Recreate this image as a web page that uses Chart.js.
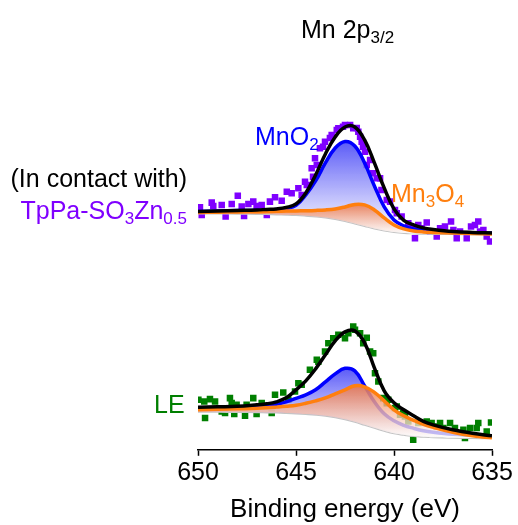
<!DOCTYPE html>
<html>
<head>
<meta charset="utf-8">
<script src="https://cdn.jsdelivr.net/npm/chart.js@4.4.1/dist/chart.umd.min.js"></script>
<style>
  body { margin: 0; background: #fff; }
  #wrap { position: relative; width: 518px; height: 525px; font-family: "Liberation Sans", Arial, sans-serif; }
  .lbl { position: absolute; font-size: 25px; line-height: 25px; white-space: nowrap; }
  .lbl sub { font-size: 17px; vertical-align: -5px; line-height: 0; }
</style>
</head>
<body>
<div id="wrap">
  <canvas id="chart-xps" width="518" height="525"></canvas>
  <div class="lbl" style="left:301px; top:17px; color:#000;">Mn 2p<sub>3/2</sub></div>
  <div class="lbl" style="left:255px; top:124px; color:#0000ff;">MnO<sub>2</sub></div>
  <div class="lbl" style="left:391px; top:181px; color:#ff7f0e;">Mn<sub>3</sub>O<sub>4</sub></div>
  <div class="lbl" style="right:331px; top:166px; color:#000; text-align:right;">(In contact with)</div>
  <div class="lbl" style="right:331px; top:198px; color:#7f00ff; text-align:right;">TpPa-SO<sub>3</sub>Zn<sub>0.5</sub></div>
  <div class="lbl" style="left:154px; top:392px; color:#007f00;">LE</div>
</div>
<script>
// binding energy grid for the fitted curves (eV)
const energyGrid = [650, 649, 648, 647, 646.5, 646, 645.5, 645, 644.5, 644, 643.5, 643, 642.5, 642, 641.5, 641, 640.5, 640, 639.5, 639, 638.5, 638, 637, 636, 635];

// upper spectrum: in contact with TpPa-SO3Zn0.5 (offset intensity, a.u.)
const topEnvelope   = [238.5, 239, 239.5, 240, 240.5, 241, 242.5, 246, 257, 275, 296, 313, 323, 323, 310, 287, 262, 241, 229.5, 225, 222, 220.5, 218.5, 217.5, 217];
const topMnO2       = [238.5, 239, 239.3, 239.7, 240, 240.5, 241.5, 244.5, 255, 269, 287, 302, 308.5, 304, 287, 264, 243, 230, 224, 221, 219.5, 218.5, 217.5, 217, 217];
const topMn3O4      = [237.5, 237.7, 238, 238.2, 238.4, 238.6, 238.8, 239, 239.2, 239.5, 240, 241, 243, 245.5, 245, 240, 232, 225, 221, 219, 218, 217.5, 216.8, 216.4, 216];
const topBackground = [236.5, 236.4, 236.2, 236, 235.8, 235.5, 235.2, 234.8, 234.2, 233.5, 232.5, 231, 229, 226.5, 224, 221.5, 219.5, 218, 217, 216.5, 216.2, 216, 215.8, 215.7, 215.7];

// lower spectrum: LE
const botEnvelope   = [42.5, 43, 43.5, 45, 46, 48, 52, 60, 69, 81, 95, 109, 118, 119, 107, 82, 59, 47, 40, 34, 28.5, 25, 20, 16.5, 14];
const botMnO2       = [42, 42.2, 42.5, 43.5, 44.5, 45.5, 48, 51.5, 55, 60, 68, 76, 81.5, 79, 64, 48, 36, 29, 24.5, 21.5, 19, 17.5, 15.5, 14.5, 13.5];
const botMn3O4      = [40, 40.5, 41, 41.5, 42, 42.7, 43.5, 44.5, 46.5, 49, 52, 56, 60, 64, 63, 57.5, 49, 40, 34, 29.5, 25.5, 22.5, 17.5, 14, 12];
const botBackground = [38, 38, 37.8, 37.6, 37.4, 37.2, 36.8, 36.3, 35.7, 35, 34, 32.5, 30.5, 28, 25, 22, 19, 16.5, 15, 13.7, 13, 12.5, 12, 11.7, 11.7];

// measured points
const topRawEnergy = [649.90, 649.81, 649.30, 649.22, 648.79, 648.59, 648.28, 647.97, 647.77, 647.65, 647.43, 647.18, 647.01, 646.75, 646.49, 646.33, 646.07, 645.73, 645.47, 645.22, 644.88, 644.71, 644.54, 644.45, 644.20, 644.13, 644.03, 643.94, 643.78, 643.62, 643.52, 643.27, 643.18, 642.92, 642.84, 642.60, 642.50, 642.24, 642.08, 641.90, 641.82, 641.73, 641.65, 641.58, 641.48, 641.39, 641.22, 641.07, 640.88, 640.71, 640.64, 640.37, 640.20, 639.95, 639.86, 639.61, 639.27, 639.02, 638.93, 638.76, 638.59, 638.33, 638.16, 637.82, 637.65, 637.40, 637.09, 636.97, 636.80, 636.63, 636.29, 636.07, 635.87, 635.70, 635.61, 635.44, 635.27, 635.10];
const topRawCounts = [242.7, 235, 247.3, 244, 245, 233.3, 246, 254.3, 243.3, 234, 246, 248.3, 244, 245, 235, 248.3, 252.7, 249.3, 258.3, 256.7, 261.7, 255, 268.3, 265, 281.7, 273.3, 291.7, 285, 301.7, 303.3, 308.3, 312, 315, 320, 321.7, 323.3, 325, 325, 321.7, 322, 318.3, 313.3, 308.3, 303.3, 298.3, 285, 290, 276.7, 271.7, 271.7, 260, 250, 248.3, 240, 236.7, 233.3, 226.7, 221.7, 211.7, 225, 221.7, 227.3, 218.3, 213.3, 221.7, 223.3, 228.3, 220, 211.7, 218.3, 211.7, 223.3, 225, 228.3, 218.3, 220, 213.3, 208.3];

const botRawEnergy = [649.98, 649.68, 649.64, 649.39, 649.13, 648.79, 648.62, 648.37, 648.28, 648.15, 648.03, 647.60, 647.52, 647.18, 647.01, 646.75, 646.24, 646.07, 645.65, 645.39, 645.05, 644.88, 644.71, 644.29, 643.94, 643.86, 643.52, 643.35, 643.10, 642.84, 642.50, 642.33, 642.08, 641.99, 641.73, 641.57, 641.39, 641.22, 641.06, 640.97, 640.80, 640.55, 640.37, 640.29, 639.95, 639.86, 639.69, 639.53, 639.44, 639.27, 639.02, 638.76, 638.33, 638.08, 637.82, 637.65, 637.48, 637.14, 636.89, 636.46, 636.38, 636.12, 635.78, 635.70, 635.27, 635.05];
const botRawCounts = [50, 48.3, 31.7, 50.7, 48.3, 38.3, 36.7, 51.7, 46.7, 35.7, 45, 34, 45, 51.7, 35.7, 46.7, 36.7, 55, 57.3, 50, 58.3, 66.7, 65, 80, 90, 88, 98.3, 106.7, 111.7, 115, 111.7, 116.7, 123.3, 120, 116.7, 106.7, 112, 98.3, 96.7, 76.7, 68.3, 51.7, 46.7, 50, 41.7, 43.3, 35, 36.7, 33.3, 28.3, 10, 26.7, 28.3, 26.7, 23.3, 26.7, 21.7, 26.7, 21.7, 20, 11.7, 21.7, 21.7, 26.7, 18.3, 27.3];

const xTicks = [650, 645, 640, 635];

const toPoints = (xs, ys) => xs.map((x, i) => ({ x: x, y: ys[i] }));

// vertical fade from the peak colour down to white at the background
function fadeFill(rgba, baseline) {
  return function(context) {
    const chart = context.chart;
    if (!chart.chartArea) return rgba;
    const yScale = chart.scales.y;
    const vals = context.dataset.data.map(p => p.y);
    const top = yScale.getPixelForValue(Math.max(...vals));
    const bottom = yScale.getPixelForValue(Math.min(...baseline));
    const g = chart.ctx.createLinearGradient(0, top, 0, bottom);
    g.addColorStop(0, rgba);
    g.addColorStop(1, 'rgba(255,255,255,0.75)');
    return g;
  };
}

function curve(values, color, width, extra) {
  return Object.assign({
    data: toPoints(energyGrid, values),
    borderColor: color,
    borderWidth: width,
    pointRadius: 0,
    tension: 0.4,
    fill: false
  }, extra || {});
}

function raw(xs, ys, color) {
  return {
    data: toPoints(xs, ys),
    showLine: false,
    pointStyle: 'rect',
    pointRadius: 4.6,
    pointBorderWidth: 0,
    pointBackgroundColor: color,
    borderColor: color
  };
}

const ctx = document.getElementById('chart-xps').getContext('2d');

// index 0 is drawn on top
const myChart = new Chart(ctx, {
  type: 'line',
  data: {
    datasets: [
      curve(topEnvelope, '#000000', 3.5),
      curve(botEnvelope, '#000000', 3.5),
      curve(topMn3O4, '#ff7f0e', 3.5, { fill: { target: 6 }, backgroundColor: fadeFill('rgba(238,120,70,0.85)', topBackground) }),
      curve(botMn3O4, '#ff7f0e', 3.5, { fill: { target: 7 }, backgroundColor: fadeFill('rgba(238,120,70,0.85)', botBackground) }),
      curve(topMnO2, '#0000ff', 3.5, { fill: { target: 6 }, backgroundColor: fadeFill('rgba(50,50,245,0.8)', topBackground) }),
      curve(botMnO2, '#0000ff', 3.5, { fill: { target: 7 }, backgroundColor: fadeFill('rgba(50,50,245,0.8)', botBackground) }),
      curve(topBackground, '#c4c4c4', 2),
      curve(botBackground, '#c4c4c4', 2),
      raw(topRawEnergy, topRawCounts, '#7f00ff'),
      raw(botRawEnergy, botRawCounts, '#007f00')
    ]
  },
  options: {
    responsive: false,
    animation: false,
    layout: { padding: { left: 198, right: 26, top: 60, bottom: 0 } },
    plugins: {
      legend: { display: false },
      tooltip: { enabled: false }
    },
    scales: {
      x: {
        type: 'linear',
        reverse: true,
        min: 635,
        max: 650,
        afterBuildTicks: axis => { axis.ticks = xTicks.map(v => ({ value: v })); },
        ticks: {
          color: '#000',
          font: { family: 'Liberation Sans', size: 25, lineHeight: 1 },
          padding: 5,
          maxRotation: 0
        },
        grid: {
          drawOnChartArea: false,
          drawTicks: true,
          tickLength: 6,
          tickWidth: 1.5,
          color: '#000'
        },
        border: { display: true, color: '#000', width: 1.5 },
        title: {
          display: true,
          text: 'Binding energy (eV)',
          color: '#000',
          font: { family: 'Liberation Sans', size: 26 },
          padding: { top: 3, bottom: 0 }
        }
      },
      y: {
        display: false,
        min: 0,
        max: 390
      }
    }
  }
});
</script>
</body>
</html>
